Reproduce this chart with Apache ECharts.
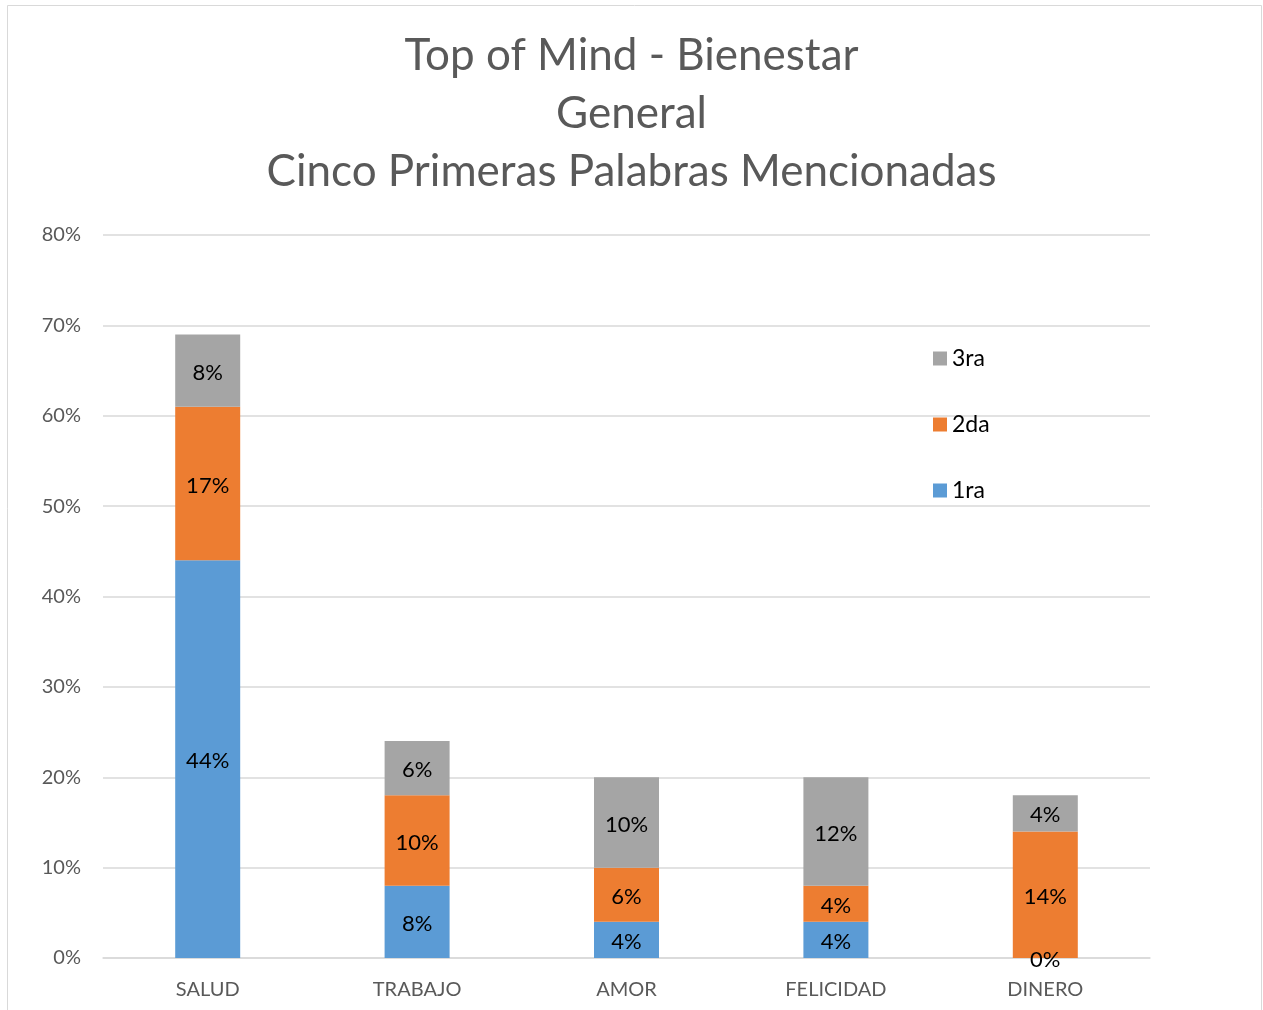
<!DOCTYPE html>
<html>
<head>
<meta charset="utf-8">
<script src="https://cdn.jsdelivr.net/npm/echarts@6/dist/echarts.min.js"></script>
<style>
  html, body { margin: 0; padding: 0; background: #fff; }
  #main { width: 1263px; height: 1010px; }
</style>
</head>
<body>
<div id="main"></div>
<script>
// datos
var categorias = ['SALUD', 'TRABAJO', 'AMOR', 'FELICIDAD', 'DINERO'];
var primera = [44, 8, 4, 4, 0];
var segunda = [17, 10, 6, 4, 14];
var tercera = [8, 6, 10, 12, 4];
var ticksY = [0, 10, 20, 30, 40, 50, 60, 70, 80];

var myChart = echarts.init(document.getElementById('main'));
var fuente = 'Lato';

var etiqueta = {
    show: true,
    position: 'inside',
    color: '#000',
    fontSize: 22,
    fontFamily: fuente,
    offset: [0, 2],
    formatter: function (p) { return p.value + '%'; }
};

var option = {
    backgroundColor: '#fff',
    animation: false,
    title: {
        text: 'Top of Mind - Bienestar\nGeneral\nCinco Primeras Palabras Mencionadas',
        left: 'center',
        top: 22,
        textStyle: {
            fontFamily: fuente,
            fontSize: 44,
            fontWeight: 'normal',
            color: '#595959',
            lineHeight: 58
        }
    },
    legend: {
        orient: 'vertical',
        left: 928,
        top: 342,
        itemWidth: 14,
        itemHeight: 14,
        itemGap: 43,
        data: ['3ra', '2da', '1ra'],
        textStyle: { fontFamily: fuente, fontSize: 23, color: '#000' },
        icon: 'rect'
    },
    graphic: [{
        type: 'rect',
        shape: { x: 7.5, y: 5.5, width: 1254, height: 1020 },
        style: { fill: 'none', stroke: '#d9d9d9', lineWidth: 1 },
        silent: true
    }],
    grid: { left: 103, right: 113, top: 235, bottom: 52 },
    xAxis: {
        type: 'category',
        data: categorias,
        axisLine: { lineStyle: { color: '#d9d9d9', width: 1.5 } },
        axisTick: { show: false },
        axisLabel: { fontFamily: fuente, fontSize: 20, color: '#595959', margin: 22 }
    },
    yAxis: {
        type: 'value',
        min: ticksY[0],
        max: ticksY[ticksY.length - 1],
        interval: 10,
        axisLine: { show: false },
        axisTick: { show: false },
        splitLine: { lineStyle: { color: '#d9d9d9', width: 1.5 } },
        axisLabel: {
            fontFamily: fuente, fontSize: 20, color: '#595959', margin: 22,
            formatter: function (v) { return v + '%'; }
        }
    },
    series: [
        { name: '1ra', type: 'bar', stack: 'total', barWidth: 65, data: primera,
          itemStyle: { color: '#5B9BD5' }, label: etiqueta },
        { name: '2da', type: 'bar', stack: 'total', barWidth: 65, data: segunda,
          itemStyle: { color: '#ED7D31' }, label: etiqueta },
        { name: '3ra', type: 'bar', stack: 'total', barWidth: 65, data: tercera,
          itemStyle: { color: '#A5A5A5' }, label: etiqueta }
    ]
};
myChart.setOption(option);
</script>
</body>
</html>
